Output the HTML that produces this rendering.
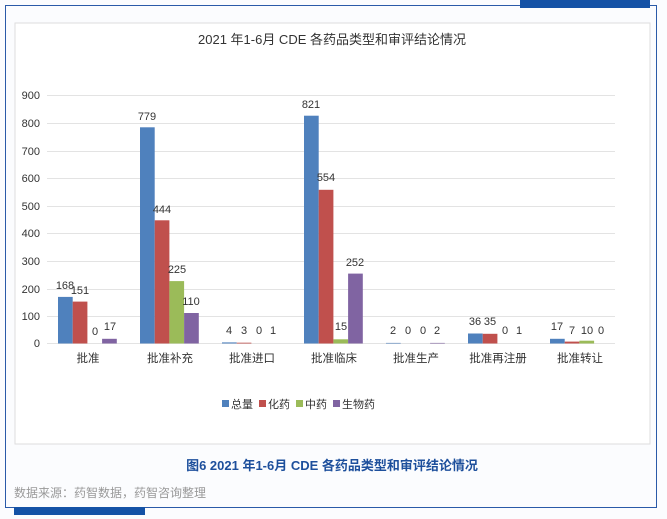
<!DOCTYPE html>
<html><head><meta charset="utf-8"><style>
body{margin:0;background:#fff;}
.f{font-family:"Liberation Sans","Noto Sans CJK SC",sans-serif;}
</style></head><body>
<svg width="667" height="519" xmlns="http://www.w3.org/2000/svg" class="f" style="display:block">
<rect x="0" y="0" width="667" height="519" fill="#fbfcfe"/>
<rect x="5.5" y="5.5" width="651" height="502" fill="none" stroke="#2a5aa8" stroke-width="1"/>
<rect x="520" y="0" width="130" height="8" fill="#1452a6"/>
<rect x="14" y="507" width="131" height="8" fill="#1452a6"/>
<rect x="15" y="23" width="635" height="421" fill="#fff" stroke="#ddd"/>
<text x="332" y="44" font-size="13" text-anchor="middle" fill="#333">2021 年1-6月 CDE 各药品类型和审评结论情况</text>
<g stroke="#e3e3e3" stroke-width="1">
<line x1="47" x2="615" y1="95.5" y2="95.5"/><line x1="47" x2="615" y1="123.5" y2="123.5"/>
<line x1="47" x2="615" y1="151.5" y2="151.5"/><line x1="47" x2="615" y1="178.5" y2="178.5"/>
<line x1="47" x2="615" y1="206.5" y2="206.5"/><line x1="47" x2="615" y1="233.5" y2="233.5"/>
<line x1="47" x2="615" y1="261.5" y2="261.5"/><line x1="47" x2="615" y1="289.5" y2="289.5"/>
<line x1="47" x2="615" y1="316.5" y2="316.5"/><line x1="47" x2="615" y1="343.5" y2="343.5"/>
</g>
<g font-size="11" fill="#333" text-anchor="end">
<text x="40" y="99">900</text><text x="40" y="127">800</text><text x="40" y="155">700</text>
<text x="40" y="182">600</text><text x="40" y="210">500</text><text x="40" y="237">400</text>
<text x="40" y="265">300</text><text x="40" y="293">200</text><text x="40" y="320">100</text>
<text x="40" y="347">0</text>
</g>
<g>
<rect x="58" y="296.9" width="14.7" height="46.6" fill="#4f81bd"/>
<rect x="72.7" y="301.6" width="14.7" height="41.9" fill="#c0504d"/>
<rect x="102.1" y="338.8" width="14.7" height="4.7" fill="#8064a2"/>
<rect x="140" y="127.3" width="14.7" height="216.2" fill="#4f81bd"/>
<rect x="154.7" y="220.3" width="14.7" height="123.2" fill="#c0504d"/>
<rect x="169.4" y="281.1" width="14.7" height="62.4" fill="#9bbb59"/>
<rect x="184.1" y="313" width="14.7" height="30.5" fill="#8064a2"/>
<rect x="222" y="342.4" width="14.7" height="1.1" fill="#4f81bd"/>
<rect x="236.7" y="342.7" width="14.7" height="0.8" fill="#c0504d"/>
<rect x="304" y="115.7" width="14.7" height="227.8" fill="#4f81bd"/>
<rect x="318.7" y="189.8" width="14.7" height="153.7" fill="#c0504d"/>
<rect x="333.4" y="339.3" width="14.7" height="4.2" fill="#9bbb59"/>
<rect x="348.1" y="273.6" width="14.7" height="69.9" fill="#8064a2"/>
<rect x="386" y="342.9" width="14.7" height="0.6" fill="#4f81bd"/>
<rect x="430.1" y="342.9" width="14.7" height="0.6" fill="#8064a2"/>
<rect x="468" y="333.5" width="14.7" height="10" fill="#4f81bd"/>
<rect x="482.7" y="333.8" width="14.7" height="9.7" fill="#c0504d"/>
<rect x="550" y="338.8" width="14.7" height="4.7" fill="#4f81bd"/>
<rect x="564.7" y="341.6" width="14.7" height="1.9" fill="#c0504d"/>
<rect x="579.4" y="340.7" width="14.7" height="2.8" fill="#9bbb59"/>
</g>
<g font-size="11" fill="#333" text-anchor="middle">
<text x="65" y="289">168</text><text x="80" y="294">151</text><text x="95" y="335">0</text><text x="110" y="330">17</text>
<text x="147" y="120">779</text><text x="162" y="213">444</text><text x="177" y="273">225</text><text x="191" y="305">110</text>
<text x="229" y="334">4</text><text x="244" y="334">3</text><text x="259" y="334">0</text><text x="273" y="334">1</text>
<text x="311" y="108">821</text><text x="326" y="181">554</text><text x="341" y="330">15</text><text x="355" y="266">252</text>
<text x="393" y="334">2</text><text x="408" y="334">0</text><text x="423" y="334">0</text><text x="437" y="334">2</text>
<text x="475" y="325">36</text><text x="490" y="325">35</text><text x="505" y="334">0</text><text x="519" y="334">1</text>
<text x="557" y="330">17</text><text x="572" y="334">7</text><text x="587" y="334">10</text><text x="601" y="334">0</text>
</g>
<g font-size="11.5" fill="#333" text-anchor="middle">
<text x="88" y="362">批准</text><text x="170" y="362">批准补充</text><text x="252" y="362">批准进口</text>
<text x="334" y="362">批准临床</text><text x="416" y="362">批准生产</text><text x="498" y="362">批准再注册</text><text x="580" y="362">批准转让</text>
</g>
<g font-size="11" fill="#333">
<rect x="222" y="400" width="7" height="7" fill="#4f81bd"/><text x="231" y="408">总量</text>
<rect x="259" y="400" width="7" height="7" fill="#c0504d"/><text x="268" y="408">化药</text>
<rect x="296" y="400" width="7" height="7" fill="#9bbb59"/><text x="305" y="408">中药</text>
<rect x="333" y="400" width="7" height="7" fill="#8064a2"/><text x="342" y="408">生物药</text>
</g>
<text x="332" y="470" font-size="13" font-weight="bold" text-anchor="middle" fill="#1d4f9c">图6 2021 年1-6月 CDE 各药品类型和审评结论情况</text>
<text x="14" y="497" font-size="12" fill="#999">数据来源：药智数据，药智咨询整理</text>
</svg>
</body></html>
